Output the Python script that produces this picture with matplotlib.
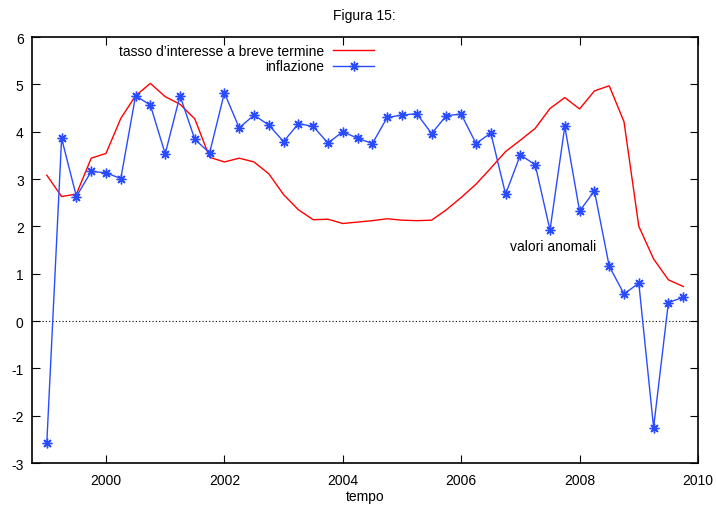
import numpy as np
import matplotlib
matplotlib.use("Agg")
import matplotlib.pyplot as plt

plt.rcParams['font.family'] = ['Liberation Sans', 'DejaVu Sans']

quarters = [1999.0 + 0.25 * i for i in range(44)]

tasso = [3.08, 2.63, 2.68, 3.44, 3.54, 4.28, 4.76, 5.02, 4.74, 4.58, 4.27, 3.46,
         3.36, 3.44, 3.36, 3.11, 2.67, 2.35, 2.14, 2.15, 2.06, 2.09, 2.12, 2.16,
         2.13, 2.12, 2.13, 2.35, 2.61, 2.89, 3.23, 3.58, 3.82, 4.07, 4.49, 4.72,
         4.48, 4.86, 4.97, 4.21, 2.00, 1.31, 0.87, 0.73]

inflazione = [-2.58, 3.86, 2.63, 3.16, 3.13, 3.01, 4.76, 4.56, 3.53, 4.76, 3.84, 3.55,
              4.82, 4.08, 4.35, 4.14, 3.79, 4.17, 4.11, 3.76, 4.00, 3.86, 3.75, 4.30,
              4.35, 4.38, 3.96, 4.34, 4.37, 3.75, 3.97, 2.68, 3.51, 3.30, 1.92, 4.11,
              2.32, 2.75, 1.16, 0.57, 0.80, -2.25, 0.39, 0.50]

xticks = [2000, 2002, 2004, 2006, 2008, 2010]
yticks = [-3, -2, -1, 0, 1, 2, 3, 4, 5, 6]

W, H = 716, 506
fig = plt.figure(figsize=(W / 100, H / 100), dpi=100)
ax = fig.add_axes([32 / W, 1 - 464 / H, (698 - 32) / W, (464 - 38) / H])

ax.axhline(0, color='black', linestyle=(0, (1, 2)), linewidth=0.8, zorder=1)
ax.plot(quarters, tasso, color='#ff0000', linewidth=1.0,
        label="tasso d’interesse a breve termine")
ax.plot(quarters, inflazione, color='#2a4cff', linewidth=1.0,
        marker=(8, 2, 0), markersize=7, markeredgewidth=1.0,
        label='inflazione')

ax.set_xlim(1998.75, 2010)
ax.set_ylim(-3, 6)
ax.set_xticks(xticks)
ax.set_yticks(yticks)
ax.set_xticklabels([str(t) for t in xticks])
ax.set_yticklabels([str(t) for t in yticks])
ax.tick_params(direction='in', length=6, width=0.8, top=True, right=True,
               labelsize=10)
ax.tick_params(axis='y', pad=6)
ax.tick_params(axis='x', pad=7)
for s in ax.spines.values():
    s.set_linewidth(1.2)

ax.text(2006.83, 1.58, 'valori anomali', fontsize=10, va='center', ha='left')

leg = ax.legend(loc='upper right', bbox_to_anchor=(374 / W, 1 - 45 / H),
                bbox_transform=fig.transFigure, frameon=False,
                fontsize=10, markerfirst=False, handlelength=2.95,
                labelspacing=0.1, handletextpad=0.65, borderaxespad=0,
                borderpad=0)
for t in leg.get_texts():
    t.set_ha('right')
leg._legend_box.align = 'right'

fig.text(364 / W, 1 - 16 / H, 'Figura 15:', ha='center', va='center', fontsize=10)
fig.text(365 / W, 1.5 / H, 'tempo', ha='center', va='bottom', fontsize=10)

fig.savefig('out.png', dpi=100)
